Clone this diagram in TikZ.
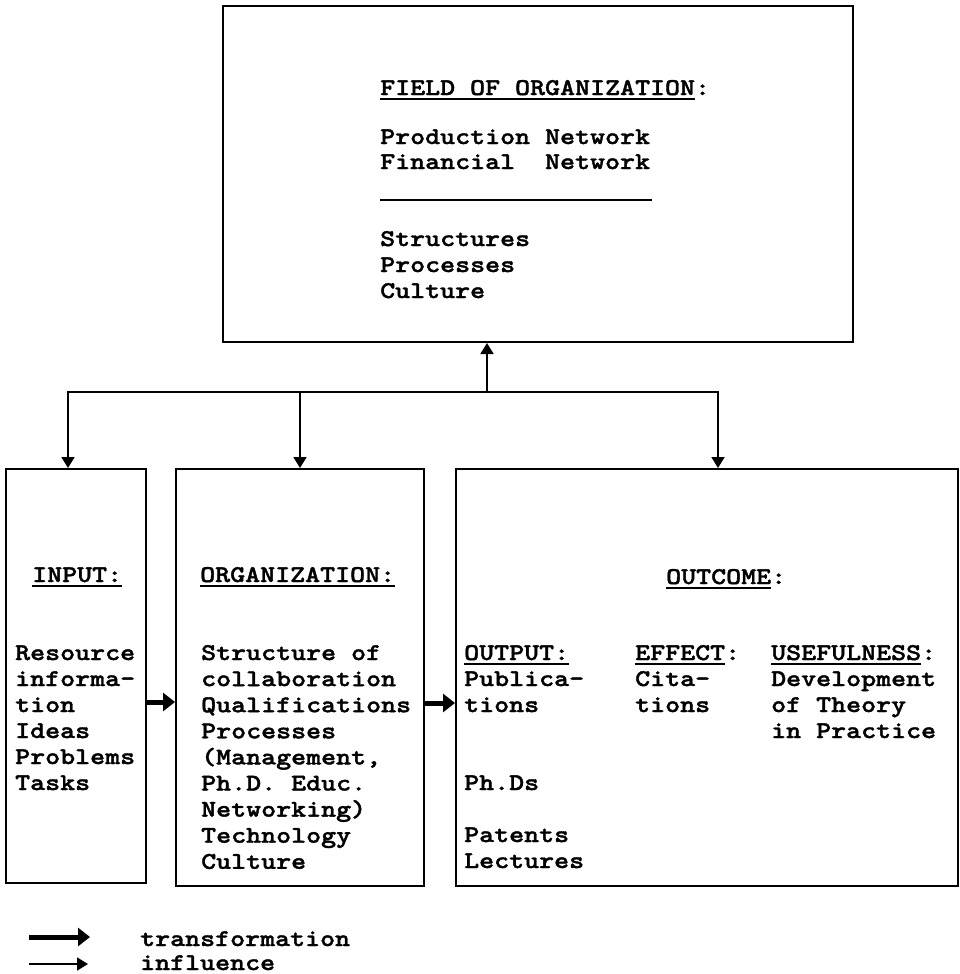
\documentclass[tikz,border=0pt]{standalone}
\usepackage{fontspec}
\newfontfamily\typefont{lmmonolt10-bold.otf}[FakeStretch=1.19,FakeBold=1.5]
\usetikzlibrary{arrows.meta}
\newcommand\ulbar[1]{\setbox0\hbox{#1}\rlap{\rule[-5pt]{\wd0}{2pt}}\box0}

\begin{document}
\begin{tikzpicture}[x=1pt,y=1pt,
	box/.style={draw,line width=2pt,inner sep=0},
	txt/.style={anchor=base west,inner sep=0,font=\typefont\fontsize{24}{26}\selectfont},
	inflarrow/.style={line width=1.8pt,-{Triangle[length=11pt,width=13pt]}},
	transarrow/.style={line width=5pt,-{Triangle[length=12pt,width=18pt]}}]
	\useasboundingbox (0,0) rectangle (959,-974);

	\node[box,minimum width=630pt,minimum height=336pt] (field) at (538,-174) {};
	\node[box,minimum width=140pt,minimum height=414pt] (input) at (76,-676) {};
	\node[box,minimum width=248pt,minimum height=417pt] (orgbox) at (300,-677.5) {};
	\node[box,minimum width=502pt,minimum height=417pt] (outcome) at (707,-677.5) {};

	% field box
	\node[txt] (fieldhead) at (380,-95) {\ulbar{FIELD OF ORGANIZATION}:};
	\foreach \t [count=\i] in {Production Network,Financial\ \ Network}
		\node[txt] (net\i) at (380,{-144-25*(\i-1)}) {\t};
	\draw[line width=2pt] (380,-200) -- (652,-200);
	\foreach \t [count=\i] in {Structures,Processes,Culture}
		\node[txt] (comp\i) at (380,{-246-26*(\i-1)}) {\t};

	% input
	\node[txt] (inhead) at (32,-582) {\ulbar{INPUT:}};
	\foreach \t [count=\i] in {Resource,informa-,tion,Ideas,Problems,Tasks}
		\node[txt] (in\i) at (15,{-660-26*(\i-1)}) {\t};

	% organization
	\node[txt] (orghead) at (200,-582) {\ulbar{ORGANIZATION:}};
	\foreach \t [count=\i] in {Structure of,collaboration,Qualifications,Processes,{(Management,},Ph.D. Educ.,Networking),Technology,Culture}
		\node[txt] (org\i) at (201,{-660-26.1*(\i-1)}) {\t};

	% outcome
	\node[txt] (outhead) at (666,-584) {\ulbar{OUTCOME}:};
	\node[txt] (outputhead) at (464,-660) {\ulbar{OUTPUT:}};
	\foreach \t/\r in {Publica-/1,tions/2,Ph.Ds/5,Patents/7,Lectures/8}
		\node[txt] (output\r) at (464,{-660-26*\r}) {\t};
	\node[txt] (effecthead) at (635,-660) {\ulbar{EFFECT}:};
	\foreach \t [count=\i] in {Cita-,tions}
		\node[txt] (effect\i) at (635,{-660-26*\i}) {\t};
	\node[txt] (usehead) at (771,-660) {\ulbar{USEFULNESS}:};
	\foreach \t [count=\i] in {Development,of Theory,in Practice}
		\node[txt] (use\i) at (771,{-660-26*\i}) {\t};

	% influence
	\coordinate (hub) at (487,-392);
	\draw[inflarrow] (hub) -- (hub |- field.south);
	\draw[inflarrow] (hub) -| ([xshift=-8pt]input.north);
	\draw[inflarrow] (hub) -| (orgbox.north);
	\draw[inflarrow] (hub) -| ([xshift=11pt]outcome.north);

	% transformation
	\coordinate (t1) at ([yshift=-26pt]input.east);
	\coordinate (t2) at ([yshift=-25.5pt]orgbox.east);
	\draw[transarrow] (t1) -- (t1 -| orgbox.west);
	\draw[transarrow] (t2) -- (t2 -| outcome.west);

	% legend
	\node[txt] (legtrans) at (140,-946) {transformation};
	\node[txt] (leginfl) at (140,-970) {influence};
	\draw[transarrow] ([shift={(-111,9)}]legtrans.base west) -- ([shift={(-50,9)}]legtrans.base west);
	\draw[inflarrow] ([shift={(-111,6)}]leginfl.base west) -- ([shift={(-52,6)}]leginfl.base west);
\end{tikzpicture}
\end{document}
